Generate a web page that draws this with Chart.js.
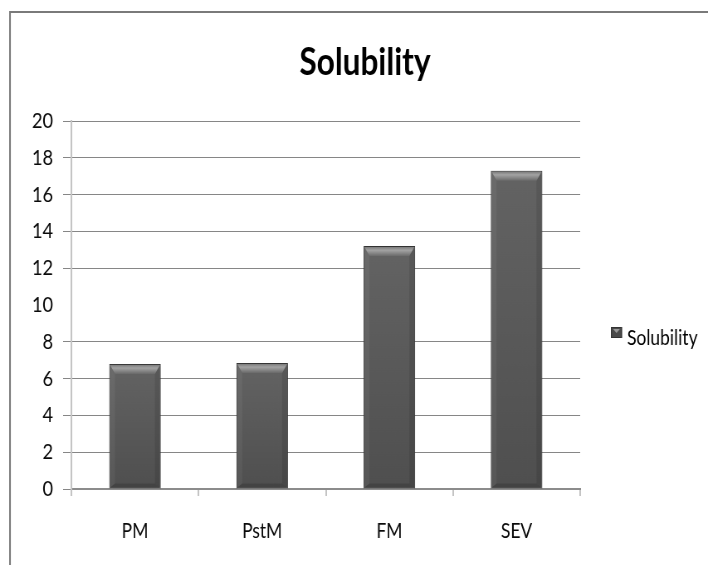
<!DOCTYPE html>
<html>
<head>
<meta charset="utf-8">
<script src="https://cdn.jsdelivr.net/npm/chart.js@4/dist/chart.umd.min.js"></script>
<style>
  html, body { margin: 0; padding: 0; background: #ffffff; overflow: hidden; }
  #wrap { width: 708px; height: 565px; position: relative; overflow: hidden; }
  #stage { position: absolute; left: 0; top: 0; transform-origin: 0 0; }
  canvas { display: block; }
</style>
</head>
<body>
<div id="wrap"><div id="stage"><canvas id="chart"></canvas></div></div>
<script>
// Chart data
const categories = ['PM', 'PstM', 'FM', 'SEV'];
const solubility = [6.8, 6.85, 13.2, 17.3];
const yTickValues = [0, 2, 4, 6, 8, 10, 12, 14, 16, 18, 20];
const seriesName = 'Solubility';
const chartTitle = 'Solubility';

const FONT = 'Lato, "Open Sans", sans-serif';

// The drawing is laid out on a wider canvas and then compressed horizontally,
// giving the tall, narrow lettering of the chart.
const SQUEEZE = 0.83;
const W = Math.round(708 / SQUEEZE);
const H = 565;
const sx = v => v / SQUEEZE;

const canvas = document.getElementById('chart');
canvas.width = W;
canvas.height = H;
canvas.style.width = W + 'px';
canvas.style.height = H + 'px';
document.getElementById('stage').style.transform = 'scaleX(' + SQUEEZE + ')';

// Outer frame, title and legend drawn around the plot
const decorations = {
  id: 'decorations',
  beforeDraw(chart) {
    const ctx = chart.ctx;
    ctx.save();
    ctx.fillStyle = '#ffffff';
    ctx.fillRect(0, 0, chart.width, chart.height);
    ctx.strokeStyle = '#7a7a7a';
    ctx.lineWidth = 2;
    ctx.beginPath();
    ctx.moveTo(sx(10), chart.height);
    ctx.lineTo(sx(10), 12);
    ctx.lineTo(chart.width, 12);
    ctx.stroke();
    ctx.restore();
  },
  afterDraw(chart) {
    const ctx = chart.ctx;
    ctx.save();
    // title
    ctx.fillStyle = '#000000';
    ctx.font = 'bold 38px ' + FONT;
    ctx.textAlign = 'center';
    ctx.textBaseline = 'alphabetic';
    ctx.fillText(chartTitle, sx(365), 75);
    // legend
    const bx = sx(611), by = 327, bw = sx(11), bh = 11;
    ctx.fillStyle = '#4a4a4a';
    ctx.fillRect(bx, by, bw, bh);
    ctx.strokeStyle = '#333333';
    ctx.lineWidth = 1;
    ctx.strokeRect(bx + 0.5, by + 0.5, bw - 1, bh - 1);
    ctx.fillStyle = '#9a9a9a';
    ctx.beginPath();
    ctx.moveTo(bx + 2.5, by + 2);
    ctx.lineTo(bx + bw - 2.5, by + 2);
    ctx.lineTo(bx + bw / 2, by + 6);
    ctx.closePath();
    ctx.fill();
    ctx.fillStyle = '#000000';
    ctx.font = '21px ' + FONT;
    ctx.textAlign = 'left';
    ctx.fillText(seriesName, sx(627), 345);
    ctx.restore();
  }
};

// Soft shadow behind the bars and bevelled shading on top of them
const barStyle = {
  id: 'barStyle',
  beforeDatasetDraw(chart) {
    const ctx = chart.ctx;
    ctx.save();
    ctx.shadowColor = 'rgba(0,0,0,0.28)';
    ctx.shadowBlur = 7;
    ctx.shadowOffsetX = 0;
    ctx.shadowOffsetY = 0;
  },
  afterDatasetDraw(chart, args) {
    const ctx = chart.ctx;
    ctx.restore();
    const meta = args.meta;
    ctx.save();
    meta.data.forEach(bar => {
      const l = bar.x - bar.width / 2 + 1;
      const r = bar.x + bar.width / 2 - 1;
      const t = bar.y + 1;
      const b = bar.base - 1;
      const side = sx(5), topH = 9, botH = 4;
      // body
      const g = ctx.createLinearGradient(0, t, 0, b);
      g.addColorStop(0, '#636363');
      g.addColorStop(1, '#4f4f4f');
      ctx.fillStyle = g;
      ctx.fillRect(l, t, r - l, b - t);
      // left bevel
      ctx.fillStyle = 'rgba(255,255,255,0.05)';
      ctx.beginPath();
      ctx.moveTo(l, t); ctx.lineTo(l + side, t + topH);
      ctx.lineTo(l + side, b - botH); ctx.lineTo(l, b);
      ctx.closePath(); ctx.fill();
      // right bevel
      ctx.fillStyle = 'rgba(0,0,0,0.10)';
      ctx.beginPath();
      ctx.moveTo(r, t); ctx.lineTo(r - side, t + topH);
      ctx.lineTo(r - side, b - botH); ctx.lineTo(r, b);
      ctx.closePath(); ctx.fill();
      // bottom bevel
      ctx.fillStyle = 'rgba(0,0,0,0.14)';
      ctx.beginPath();
      ctx.moveTo(l, b); ctx.lineTo(l + side, b - botH);
      ctx.lineTo(r - side, b - botH); ctx.lineTo(r, b);
      ctx.closePath(); ctx.fill();
      // top bevel
      const tg = ctx.createLinearGradient(0, t, 0, t + topH);
      tg.addColorStop(0, '#7c7c7c');
      tg.addColorStop(0.35, '#a3a3a3');
      tg.addColorStop(1, '#6a6a6a');
      ctx.fillStyle = tg;
      ctx.beginPath();
      ctx.moveTo(l, t); ctx.lineTo(r, t);
      ctx.lineTo(r - side, t + topH); ctx.lineTo(l + side, t + topH);
      ctx.closePath(); ctx.fill();
    });
    ctx.restore();
  }
};

new Chart(canvas, {
  type: 'bar',
  data: {
    labels: categories,
    datasets: [{
      label: seriesName,
      data: solubility,
      backgroundColor: '#585858',
      borderColor: '#3a3a3a',
      borderWidth: 1,
      barPercentage: 0.405,
      categoryPercentage: 1.0
    }]
  },
  options: {
    responsive: false,
    animation: false,
    devicePixelRatio: 1,
    layout: { padding: { top: 121, right: W - Math.round(sx(580)), left: 0, bottom: 0 } },
    plugins: {
      legend: { display: false },
      title: { display: false },
      tooltip: { enabled: false }
    },
    scales: {
      x: {
        grid: {
          offset: true,
          drawOnChartArea: false,
          drawTicks: true,
          tickLength: 7,
          color: '#c4c4c4',
          lineWidth: 2
        },
        border: { color: '#8c8c8c', width: 2 },
        ticks: {
          padding: 23,
          color: '#0a0a0a',
          font: { family: FONT, size: 21 }
        },
        afterFit(scale) { scale.height = 76; }
      },
      y: {
        min: 0,
        max: 20,
        afterBuildTicks(scale) { scale.ticks = yTickValues.map(v => ({ value: v })); },
        ticks: {
          padding: 12,
          color: '#0a0a0a',
          font: { family: FONT, size: 22 }
        },
        grid: {
          color: ctx => (ctx.tick && ctx.tick.value === 10) ? 'rgba(0,0,0,0)' : '#868686',
          lineWidth: 1,
          tickLength: 10,
          drawTicks: true
        },
        border: { color: '#c4c4c4', width: 2 },
        afterFit(scale) { scale.width = Math.round(sx(71)); }
      }
    }
  },
  plugins: [decorations, barStyle]
});
</script>
</body>
</html>
